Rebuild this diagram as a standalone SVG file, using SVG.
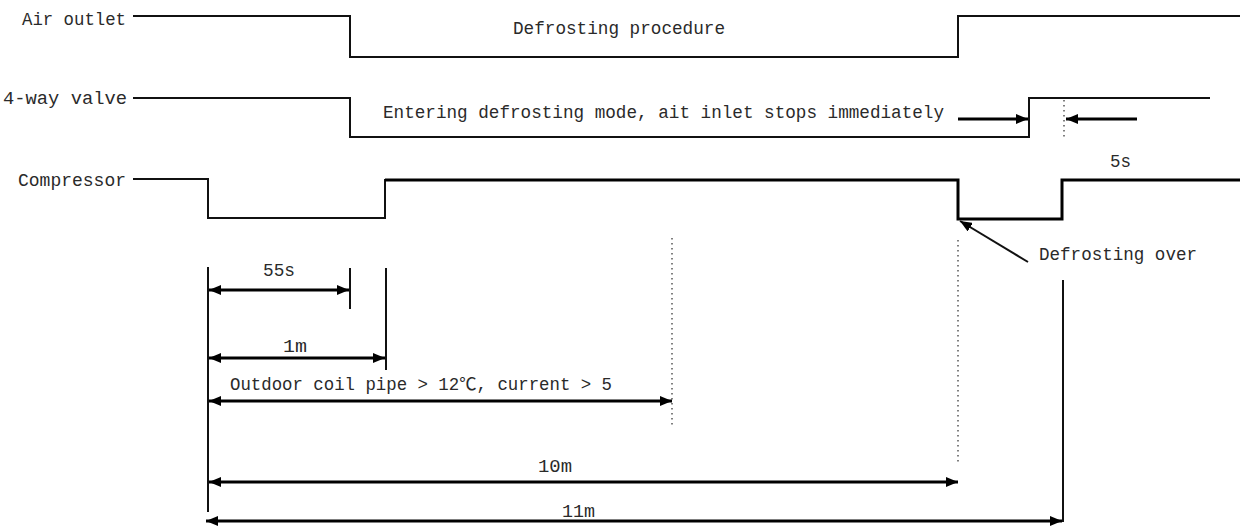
<svg xmlns="http://www.w3.org/2000/svg" width="1246" height="526" viewBox="0 0 1246 526">
<defs>
<style>
text{font-family:"Liberation Mono","Noto Sans CJK SC",monospace;font-size:17.5px;fill:#2a2a2a}
.sig{fill:none;stroke:#111;stroke-width:2}
.thick{fill:none;stroke:#000;stroke-width:3}
.dim{fill:none;stroke:#000;stroke-width:3}
.ext{fill:none;stroke:#111;stroke-width:2}
.dot{fill:none;stroke:#555;stroke-width:1.5;stroke-dasharray:1.5 3.5}
</style>
<marker id="ah" viewBox="0 0 12 10" refX="12" refY="5" markerWidth="12" markerHeight="10" markerUnits="userSpaceOnUse" orient="auto-start-reverse">
<path d="M0,0 L12,5 L0,10 Z" fill="#000"/>
</marker>
</defs>
<rect width="1246" height="526" fill="#fff"/>

<g id="air-outlet">
<text x="22" y="25" textLength="104" lengthAdjust="spacingAndGlyphs">Air outlet</text>
<polyline class="sig" points="133,16 350,16 350,57 958,57 958,16 1240,16"/>
<text x="513" y="34" textLength="212" lengthAdjust="spacingAndGlyphs">Defrosting procedure</text>
</g>

<g id="four-way-valve">
<text x="3" y="104" textLength="124" lengthAdjust="spacingAndGlyphs">4-way valve</text>
<polyline class="sig" points="133,98 350,98 350,137 1029,137 1029,98 1210,98"/>
<text x="383" y="118" textLength="561" lengthAdjust="spacingAndGlyphs">Entering defrosting mode, ait inlet stops immediately</text>
</g>

<g id="compressor">
<text x="18" y="186" textLength="108" lengthAdjust="spacingAndGlyphs">Compressor</text>
<polyline class="sig" points="133,179 208,179 208,218 385,218 385,179"/>
<polyline class="thick" points="385,180 958,180 958,219 1062,219 1062,180 1240,180"/>
<text x="1110" y="167" textLength="21" lengthAdjust="spacingAndGlyphs">5s</text>
</g>

<g id="defrosting-over">
<text x="1039" y="260" textLength="158" lengthAdjust="spacingAndGlyphs">Defrosting over</text>
</g>

<g id="labels">
<text x="263" y="276" textLength="32" lengthAdjust="spacingAndGlyphs">55s</text>
<text x="283" y="352" textLength="24" lengthAdjust="spacingAndGlyphs">1m</text>
<text x="230" y="390" textLength="382" lengthAdjust="spacingAndGlyphs">Outdoor coil pipe &gt; 12℃, current &gt; 5</text>
<text x="538" y="472" textLength="34" lengthAdjust="spacingAndGlyphs">10m</text>
<text x="562" y="517" textLength="33" lengthAdjust="spacingAndGlyphs">11m</text>
</g>

<g id="connectors">
<line class="dim" x1="958" y1="119" x2="1028" y2="119" marker-end="url(#ah)"/>
<line class="dim" x1="1137" y1="119" x2="1066" y2="119" marker-end="url(#ah)"/>
<line class="dot" x1="1064" y1="100" x2="1064" y2="138"/>
<line class="sig" x1="1028" y1="262" x2="960" y2="221" marker-end="url(#ah)"/>

<line class="ext" x1="208" y1="267" x2="208" y2="512"/>
<line class="ext" x1="350" y1="268" x2="350" y2="309"/>
<line class="ext" x1="386" y1="268" x2="386" y2="370"/>
<line class="dot" x1="672" y1="238" x2="672" y2="425"/>
<line class="dot" x1="958" y1="240" x2="958" y2="462"/>
<line class="ext" x1="1063" y1="280" x2="1063" y2="522"/>

<line class="dim" x1="209" y1="290" x2="349" y2="290" marker-start="url(#ah)" marker-end="url(#ah)"/>
<line class="dim" x1="209" y1="358" x2="385" y2="358" marker-start="url(#ah)" marker-end="url(#ah)"/>
<line class="dim" x1="209" y1="401" x2="672" y2="401" marker-start="url(#ah)" marker-end="url(#ah)"/>
<line class="dim" x1="209" y1="482" x2="958" y2="482" marker-start="url(#ah)" marker-end="url(#ah)"/>
<line class="dim" x1="206" y1="521" x2="1062" y2="521" marker-start="url(#ah)" marker-end="url(#ah)"/>
</g>
</svg>
